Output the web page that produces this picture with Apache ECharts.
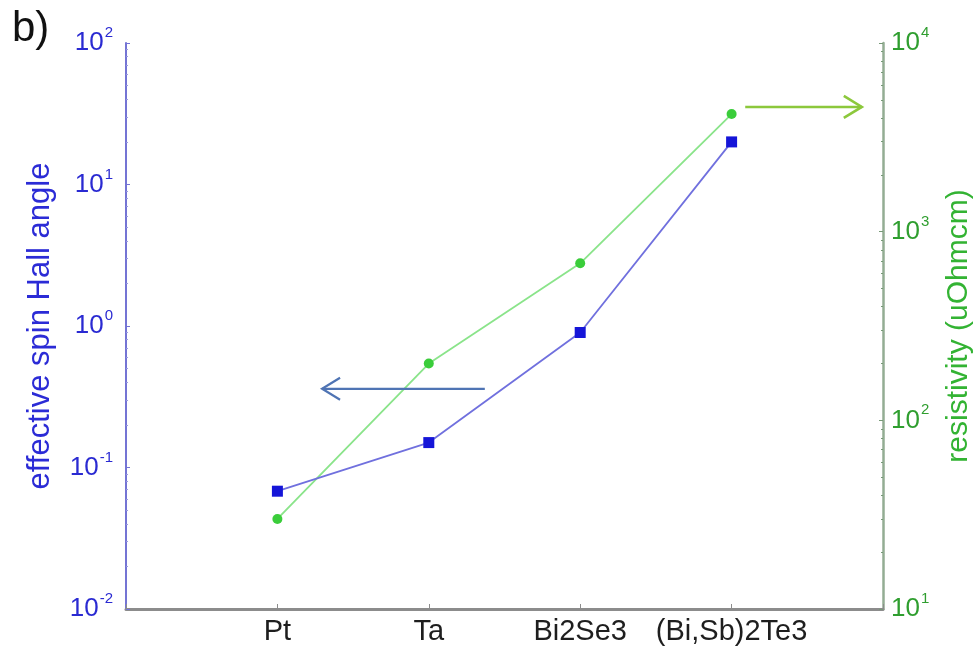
<!DOCTYPE html>
<html>
<head>
<meta charset="utf-8">
<script src="https://cdn.jsdelivr.net/npm/echarts@6/dist/echarts.min.js"></script>
<style>
html,body{margin:0;padding:0;background:#fff;}
#c{width:975px;height:650px;}
</style>
</head>
<body>
<div id="c"></div>
<script>
// ---- data ----
const categories = ['Pt', 'Ta', 'Bi2Se3', '(Bi,Sb)2Te3'];
const spinHallAngle = [0.068, 0.15, 0.9, 20];
const resistivity = [30, 200, 680, 4200];
// annotation arrows in data units: [xStart, xEnd], y
const blueArrowX = [2.37, 1.295];
const blueArrowY = 0.36;
const greenArrowX = [4.09, 4.86];
const greenArrowY = 4580;

const FONT = 'Liberation Sans, Arial, sans-serif';
const chart = echarts.init(document.getElementById('c'), null, {renderer: 'canvas'});

function powLabel(v) {
  const e = Math.round(Math.log10(v));
  return '{a|10}{b|' + e + '}';
}
function richFor(color) {
  return {
    a: {fontSize: 26, color: color, fontFamily: FONT},
    b: {fontSize: 15, color: color, padding: [0, 0, 20, 1], fontFamily: FONT}
  };
}

const blueLineData = categories.map((c, i) => [i + 1, spinHallAngle[i]]);
const greenLineData = categories.map((c, i) => [i + 1, resistivity[i]]);

const option = {
  animation: false,
  backgroundColor: '#ffffff',
  textStyle: {fontFamily: FONT},
  grid: {left: 126, right: 92, top: 43, bottom: 41, containLabel: false, outerBoundsMode: 'none'},
  xAxis: {
    type: 'value', min: 0, max: 5, interval: 1,
    axisLine: {lineStyle: {color: '#8c8c8c', width: 3}},
    axisTick: {inside: true, length: 5, lineStyle: {color: '#8c8c8c'}},
    splitLine: {show: false},
    axisLabel: {
      color: '#1e1e1e', fontSize: 29, margin: 8,
      formatter: v => categories[v - 1] || ''
    }
  },
  yAxis: [{
    type: 'log', logBase: 10, min: 0.01, max: 100, position: 'left',
    name: 'effective spin Hall angle', nameLocation: 'middle', nameRotate: 90, nameGap: 70,
    nameTextStyle: {color: '#2b2bd6', fontSize: 31},
    axisLine: {show: true, lineStyle: {color: '#7474d4', width: 2}},
    axisTick: {inside: true, length: 4, lineStyle: {color: '#7474d4'}},
    minorTick: {show: true, splitNumber: 9, length: 2, lineStyle: {color: '#9a9ade'}},
    splitLine: {show: false},
    axisLabel: {margin: 13, formatter: powLabel, rich: richFor('#2a2ad2')}
  }, {
    type: 'log', logBase: 10, min: 10, max: 10000, position: 'right',
    name: 'resistivity (uOhmcm)', nameLocation: 'middle', nameRotate: 90, nameGap: 61,
    nameTextStyle: {color: '#33b333', fontSize: 30},
    axisLine: {show: true, lineStyle: {color: '#93ad93', width: 2.5}},
    axisTick: {inside: true, length: 4, lineStyle: {color: '#779977'}},
    minorTick: {show: true, splitNumber: 9, length: 2, lineStyle: {color: '#779977'}},
    splitLine: {show: false},
    axisLabel: {margin: 8, formatter: powLabel, rich: richFor('#2f9e2f')}
  }],
  series: [{
    name: 'spin Hall angle', type: 'line', yAxisIndex: 0,
    data: blueLineData,
    symbol: 'rect', symbolSize: 11,
    itemStyle: {color: '#1515d8'},
    lineStyle: {color: '#7070de', width: 1.8},
    z: 3
  }, {
    name: 'resistivity', type: 'line', yAxisIndex: 1,
    data: greenLineData,
    symbol: 'circle', symbolSize: 10,
    itemStyle: {color: '#3acd3a'},
    lineStyle: {color: '#8ae48a', width: 1.8},
    z: 2
  }]
};
chart.setOption(option);

// arrows built from data coordinates
function arrowGraphic(xs, y, yAxisIndex, color, width) {
  const s = chart.convertToPixel({xAxisIndex: 0, yAxisIndex: yAxisIndex}, [xs[0], y]);
  const e = chart.convertToPixel({xAxisIndex: 0, yAxisIndex: yAxisIndex}, [xs[1], y]);
  const dir = e[0] > s[0] ? -1 : 1;
  return [{
    type: 'polyline', z: 10,
    shape: {points: [s, e]},
    style: {stroke: color, lineWidth: width, fill: null}
  }, {
    type: 'polyline', z: 10,
    shape: {points: [[e[0] + dir * 18, e[1] - 11], e, [e[0] + dir * 18, e[1] + 11]]},
    style: {stroke: color, lineWidth: width, fill: null}
  }];
}
const g = [{
  type: 'text', left: 12, top: 8,
  style: {text: 'b)', fontSize: 42, fontFamily: FONT, fill: '#111'}
}].concat(
  arrowGraphic(blueArrowX, blueArrowY, 0, '#4f74b4', 2.2),
  arrowGraphic(greenArrowX, greenArrowY, 1, '#8cc83c', 2.6)
);
chart.setOption({graphic: g});
</script>
</body>
</html>
